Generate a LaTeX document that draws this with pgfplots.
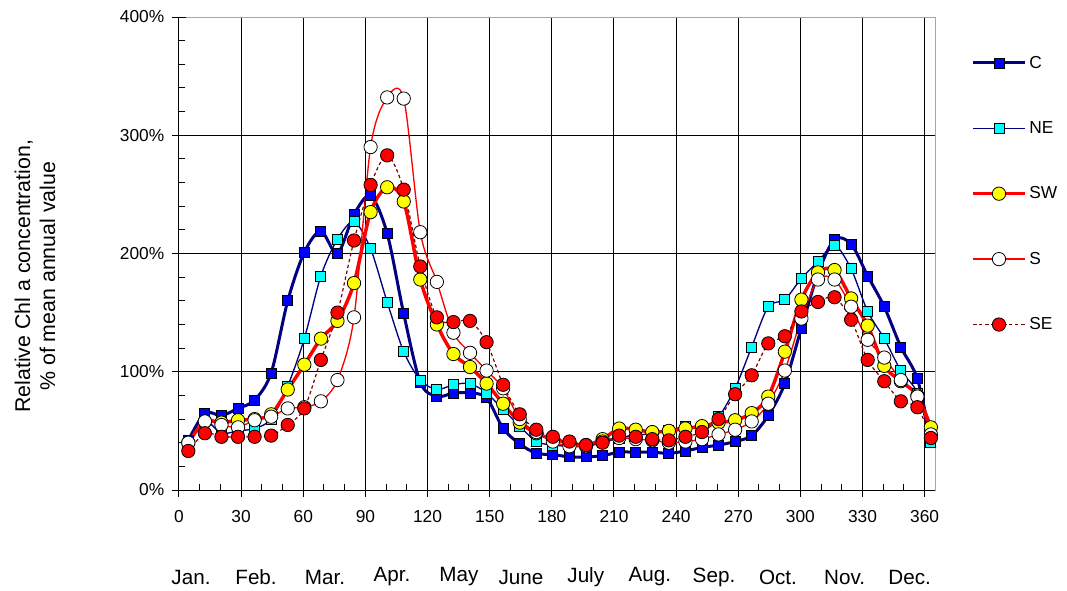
\documentclass[border=0pt]{standalone}
\usepackage{fontspec}
\setmainfont{Liberation Sans}
\usepackage{pgfplots}
\usepackage{pgfplotstable}
\pgfplotsset{compat=1.18}
\definecolor{navy}{RGB}{0,0,128}
\definecolor{dred}{RGB}{128,0,0}
\definecolor{cya}{RGB}{0,255,255}
\definecolor{yel}{RGB}{255,255,0}
\newcommand\fs{\fontsize{13}{15.6}\selectfont}
\newcommand\fm{\fontsize{15.5}{18}\selectfont}
\pgfplotsset{myleg/.style={legend image code/.code={\draw[mark repeat=2,mark phase=2,##1] plot coordinates {(0pt,0pt) (19.5pt,0pt) (39pt,0pt)};}}}
\pgfplotstableread{
d C NE SW S SE
4.5 42 38 40 40 33
12.5 65 58 58 58 48
20.5 63 48 57 55 45
28.5 69 50 59 53 45
36.5 76 52 60 59 45
44.5 99 60 64 62 46
52.5 160 88 85 69 55
60.5 201 128 106 70 69
68.5 219 181 128 75 110
76.5 200 212 143 93 150
84.5 233 227 175 146 211
92.5 249 204 235 290 258
100.5 217 159 256 332 283
108.5 149 117 244 331 254
116.5 91 93 178 218 189
124.5 79 85 140 176 146
132.5 82 89 115 133 142
140.5 82 90 104 116 143
148.5 78 82 90 101 125
156.5 52 68 73 86 89
164.5 39 54 57 60 64
172.5 31 41 48 49 51
180.5 30 38 43 41 45
188.5 28 37 40 37 41
196.5 28 37 38 37 38
204.5 29 40 43 41 40
212.5 32 44 52 44 46
220.5 32 46 51 43 45
228.5 32 48 49 42 43
236.5 31 50 50 40 42
244.5 33 54 52 41 45
252.5 36 52 54 43 49
260.5 38 62 57 47 60
268.5 41 86 59 51 81
276.5 46 121 65 58 97
284.5 63 155 79 73 124
292.5 90 161 117 101 130
300.5 137 179 161 145 151
308.5 183 193 184 178 159
316.5 212 207 186 178 163
324.5 208 187 162 155 144
332.5 181 151 139 127 110
340.5 155 128 105 112 92
348.5 121 101 92 93 75
356.5 94 82 80 79 70
363 42 40 53 47 44
}\data
\begin{document}
\begin{tikzpicture}
\begin{axis}[
  name=ax, scale only axis, width=567pt, height=354.75pt,
  xmin=0, xmax=365, ymin=0, ymax=400,
  xtick={0,30,...,360}, ytick={0,100,200,300},
  extra y ticks={400}, extra y tick labels={400\%},
  extra y tick style={grid=none},
  minor xtick={10,20,...,360}, minor ytick={20,40,...,380},
  tick align=inside, tick pos=left,
  major tick length=5pt, minor tick length=4.5pt,
  tick style={black, line width=0.75pt},
  grid=major, major grid style={black, line width=0.75pt},
  minor grid style={draw=none},
  axis line style={draw=black!35, line width=0.75pt},
  yticklabel={\pgfmathprintnumber{\tick}\%},
  /pgf/number format/assume math mode=true,
  every tick label/.append style={font=\fs},
  xticklabel style={yshift=-11.5pt},
  yticklabel style={xshift=-7.5pt},
  clip=false,
  legend style={draw=none, fill=none, at={(1,1)}, anchor=north west,
    xshift=24pt, yshift=-25pt, font=\fs, row sep=34.5pt,
    /tikz/every even column/.append style={column sep=4pt}},
  legend cell align=left,
  myleg,
]
\addplot[navy, line width=2.25pt, smooth, mark=square*, mark size=3.75pt,
  mark options={solid, line width=0.6pt, draw=black, fill=blue}] table[x=d,y=C]{\data};
\addlegendentry{C}
\addplot[navy, line width=1pt, smooth, mark=square*, mark size=3.75pt,
  mark options={solid, line width=0.6pt, draw=black, fill=cya}] table[x=d,y=NE]{\data};
\addlegendentry{NE}
\addplot[red, line width=2.6pt, smooth, mark=*, mark size=5pt,
  mark options={solid, line width=0.6pt, draw=black, fill=yel}] table[x=d,y=SW]{\data};
\addlegendentry{SW}
\addplot[red, line width=1pt, smooth, mark=*, mark size=5pt,
  mark options={solid, line width=0.6pt, draw=black, fill=white}] table[x=d,y=S]{\data};
\addlegendentry{S}
\addplot[dred, line width=0.9pt, smooth, dash pattern=on 2.5pt off 2pt, mark=*, mark size=5pt,
  mark options={solid, line width=0.6pt, draw=black, fill=red}] table[x=d,y=SE]{\data};
\addlegendentry{SE}
\draw[black, line width=0.75pt] (rel axis cs:0,1) -- (rel axis cs:0,0) -- (rel axis cs:1,0);
\pgfplotsinvokeforeach{0,30,60,90,120,150,180,210,240,270,300,330,360}{\draw[black,line width=0.75pt] (axis cs:#1,0) -- ++(0pt,-5.25pt);}
\pgfplotsinvokeforeach{0,100,200,300,400}{\draw[black,line width=0.75pt] (axis cs:0,#1) -- ++(-5.25pt,0pt);}
\node[font=\fm] at (axis cs:5.8,0) [yshift=-65.25pt] {Jan.};
\node[font=\fm] at (axis cs:37.2,0) [yshift=-65.25pt] {Feb.};
\node[font=\fm] at (axis cs:70.5,0) [yshift=-65.25pt] {Mar.};
\node[font=\fm] at (axis cs:102.8,0) [yshift=-65.25pt] {Apr.};
\node[font=\fm] at (axis cs:135.1,0) [yshift=-65.25pt] {May};
\node[font=\fm] at (axis cs:165.1,0) [yshift=-65.25pt] {June};
\node[font=\fm] at (axis cs:196.4,0) [yshift=-65.25pt] {July};
\node[font=\fm] at (axis cs:227.3,0) [yshift=-65.25pt] {Aug.};
\node[font=\fm] at (axis cs:258.3,0) [yshift=-65.25pt] {Sep.};
\node[font=\fm] at (axis cs:289.2,0) [yshift=-65.25pt] {Oct.};
\node[font=\fm] at (axis cs:321.4,0) [yshift=-65.25pt] {Nov.};
\node[font=\fm] at (axis cs:352.8,0) [yshift=-65.25pt] {Dec.};
\end{axis}
\node[rotate=90, align=center, font=\fontsize{16}{18.75}\selectfont] at ([xshift=-108pt,yshift=-17pt]ax.west) {Relative Chl a concentration,\\\% of mean annual value};
\pgfresetboundingbox
\path ([xshift=-134.25pt,yshift=-75pt]ax.south west) rectangle ([xshift=666pt,yshift=367.5pt]ax.south west);
\end{tikzpicture}
\end{document}
